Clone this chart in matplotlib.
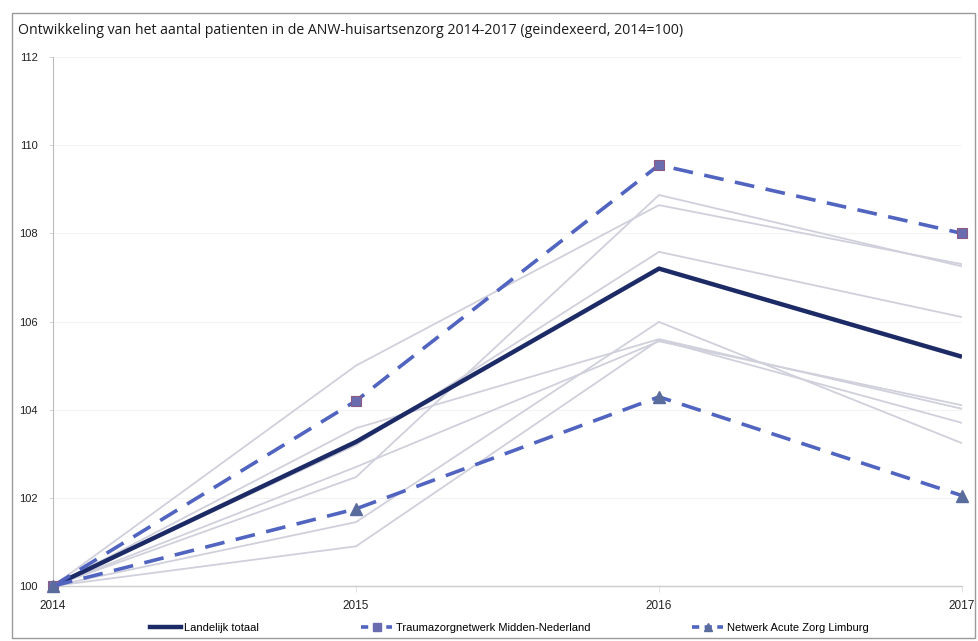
import matplotlib
matplotlib.use("Agg")
import matplotlib.pyplot as plt
from matplotlib.patches import Rectangle
from matplotlib.lines import Line2D

years = [2014, 2015, 2016, 2017]
yticks = [100, 102, 104, 106, 108, 110, 112]

landelijk = [100, 103.27, 107.2, 105.2]
trauma_mn = [100, 104.2, 109.55, 108.0]
nazl = [100, 101.75, 104.29, 102.05]

gray_series = [
    [100, 105.0, 108.64, 107.3],
    [100, 102.47, 108.87, 107.25],
    [100, 103.2, 107.58, 106.1],
    [100, 103.58, 105.6, 104.02],
    [100, 101.45, 105.99, 103.24],
    [100, 100.9, 105.58, 103.7],
    [100, 102.7, 105.55, 104.1],
]

title = "Ontwikkeling van het aantal patienten in de ANW-huisartsenzorg 2014-2017 (geindexeerd, 2014=100)"
labels = ["Landelijk totaal", "Traumazorgnetwerk Midden-Nederland", "Netwerk Acute Zorg Limburg"]

W, H = 979, 641
fig = plt.figure(figsize=(W / 100, H / 100), dpi=100)
fig.patch.set_facecolor("white")
font = ["Liberation Sans Narrow", "Liberation Sans", "DejaVu Sans"]

# outer frame
fig.patches.append(Rectangle((12 / W, 1 - 638 / H), (975 - 12) / W, (638 - 13) / H,
                             transform=fig.transFigure, fill=False, edgecolor="#9a9a9a", lw=1.0))

fig.text(18 / W, 1 - 30 / H, title, fontsize=10.2, family=["Open Sans", "DejaVu Sans"],
         va="center", ha="left", color="#1a1a1a")

ax = fig.add_axes([53 / W, 1 - 586 / H, (962 - 53) / W, (586 - 57) / H])
ax.set_xlim(2014, 2017)
ax.set_ylim(100, 112)

for s in gray_series:
    ax.plot(years, s, color="#d0d0dc", lw=1.3, zorder=2)

dash = (0, (5.5, 3.2))
ax.plot(years, landelijk, color="#1c2a66", lw=3.2, zorder=4, solid_capstyle="butt")
ax.plot(years, trauma_mn, color="#5064c0", lw=2.6, ls=dash, zorder=5,
        marker="s", markersize=7, markerfacecolor="#6a6cb0", markeredgecolor="#8a5a80",
        markeredgewidth=0.8, clip_on=False)
ax.plot(years, nazl, color="#5064c0", lw=2.6, ls=dash, zorder=5,
        marker="^", markersize=8, markerfacecolor="#5a6c9c", markeredgecolor="#5a6c9c",
        clip_on=False)

ax.set_yticks(yticks)
ax.set_yticklabels([str(v) for v in yticks], family=font, fontsize=8, color="#222222")
ax.set_xticks(years)
ax.set_xticklabels([str(v) for v in years], family=font, fontsize=8.5, color="#222222")
ax.tick_params(axis="y", length=3, width=0.6, color="#cccccc", pad=8)
ax.tick_params(axis="x", length=4, width=0.6, color="#dddddd", pad=6)
for sp in ["top", "right"]:
    ax.spines[sp].set_visible(False)
ax.spines["left"].set_color("#bbbbbb")
ax.spines["left"].set_linewidth(0.8)
ax.spines["bottom"].set_color("#cccccc")
ax.spines["bottom"].set_linewidth(1.0)
ax.grid(axis="y", color="#f3f3f3", lw=0.8)
ax.set_axisbelow(True)

handles = [
    Line2D([], [], color="#1c2a66", lw=3.2),
    Line2D([], [], color="#5064c0", lw=2.6, ls=(0, (2, 1.5)), marker="s", markersize=6,
           markerfacecolor="#6a6cb0", markeredgecolor="#6a6cb0"),
    Line2D([], [], color="#5064c0", lw=2.6, ls=(0, (2, 1.5)), marker="^", markersize=6,
           markerfacecolor="#5a6c9c", markeredgecolor="#5a6c9c"),
]
fig.legend(handles, labels, loc="center", bbox_to_anchor=(509 / W, 1 - 628 / H), ncol=3,
           frameon=False, prop={"family": font, "size": 8}, handlelength=2.8,
           columnspacing=9.2, handletextpad=0.3)

fig.savefig("out.png", dpi=100, facecolor="white")
